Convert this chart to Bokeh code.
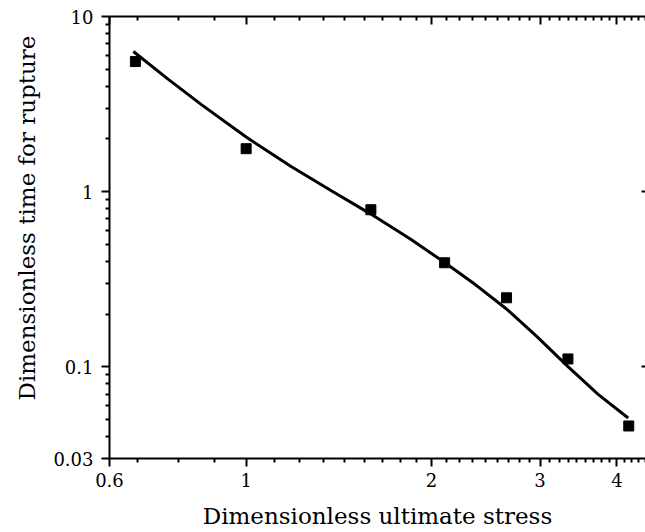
from bokeh.plotting import figure
from bokeh.models import FixedTicker, LogAxis, NumeralTickFormatter, CustomJSTickFormatter, Title
from bokeh.embed import file_html
from bokeh.resources import INLINE

# Measured data (squares)
stress = [0.661, 1.0, 1.594, 2.10, 2.647, 3.33, 4.18]
rupture_time = [5.53, 1.76, 0.789, 0.393, 0.248, 0.111, 0.046]

# Fitted curve
fit_stress = [0.656, 0.745, 0.846, 1.0, 1.183, 1.373, 1.594, 1.850, 2.092,
              2.358, 2.647, 2.972, 3.334, 3.728, 4.171]
fit_time = [6.31, 4.42, 3.14, 2.05, 1.393, 1.016, 0.745, 0.535, 0.398,
            0.294, 0.214, 0.148, 0.100, 0.0697, 0.0511]

x_major = [0.6, 1, 2, 3, 4]
x_minor = [k / 9 for k in range(6, 41) if k % 9]
y_major = [0.03, 0.1, 1, 10]
y_minor = [k * 10 ** e for e in (-2, -1, 0) for k in range(2, 10) if 0.03 < k * 10 ** e < 10]

FONT = "DejaVu Serif"

p = figure(width=645, height=532, x_axis_type="log", y_axis_type="log",
           x_range=(0.6, 4.45), y_range=(0.03, 10),
           output_backend="svg", toolbar_location=None,
           min_border_left=108, min_border_top=16, min_border_bottom=74,
           min_border_right=0)
p.outline_line_color = None
p.xgrid.visible = False
p.ygrid.visible = False
p.background_fill_color = "white"
p.border_fill_color = "white"

xt = FixedTicker(ticks=x_major, minor_ticks=x_minor)
yt = FixedTicker(ticks=y_major, minor_ticks=y_minor)
fmt = NumeralTickFormatter(format="0.[00]")

for ax, t in ((p.xaxis[0], xt), (p.yaxis[0], yt)):
    ax.ticker = t
    ax.formatter = fmt
    ax.axis_line_width = 2
    ax.axis_line_color = "black"
    ax.major_tick_line_color = "black"
    ax.minor_tick_line_color = "black"
    ax.major_tick_line_width = 2
    ax.minor_tick_line_width = 2
    ax.major_tick_out = 8
    ax.major_tick_in = 0
    ax.minor_tick_out = 4
    ax.minor_tick_in = 0
    ax.major_label_text_font = FONT
    ax.major_label_text_font_size = "18px"
    ax.major_label_text_color = "black"
    ax.axis_label_text_font = FONT
    ax.axis_label_text_font_size = "23px"
    ax.axis_label_text_font_style = "normal"
    ax.axis_label_text_color = "black"

p.xaxis[0].axis_label = "Dimensionless ultimate stress"
p.xaxis[0].major_label_standoff = 6
p.xaxis[0].axis_label_standoff = 13
p.yaxis[0].major_label_standoff = 8

ytitle = Title(text="Dimensionless time for rupture", align="left", offset=58,
               text_font=FONT, text_font_size="23px", text_font_style="normal",
               text_color="black", standoff=22)
p.add_layout(ytitle, "left")

blank = CustomJSTickFormatter(code="return '';")

top = LogAxis(ticker=FixedTicker(ticks=x_major, minor_ticks=x_minor),
              formatter=blank,
              axis_line_width=2, axis_line_color="black",
              major_tick_line_width=2, minor_tick_line_width=2,
              major_tick_in=8, major_tick_out=0, minor_tick_in=4, minor_tick_out=0,
              major_label_text_font_size="1px", major_label_standoff=0)
p.add_layout(top, "above")

right = LogAxis(ticker=FixedTicker(ticks=[0.1, 1]),
                formatter=blank,
                axis_line_color=None,
                major_tick_line_width=2, minor_tick_line_color=None,
                major_tick_in=4, major_tick_out=0,
                major_label_text_font_size="1px", major_label_standoff=0)
p.add_layout(right, "right")

p.line(fit_stress, fit_time, line_width=3, line_color="black")
p.scatter(stress, rupture_time, marker="square", size=10,
          fill_color="black", line_color="black")

open("out.html", "w").write(file_html(p, INLINE))
